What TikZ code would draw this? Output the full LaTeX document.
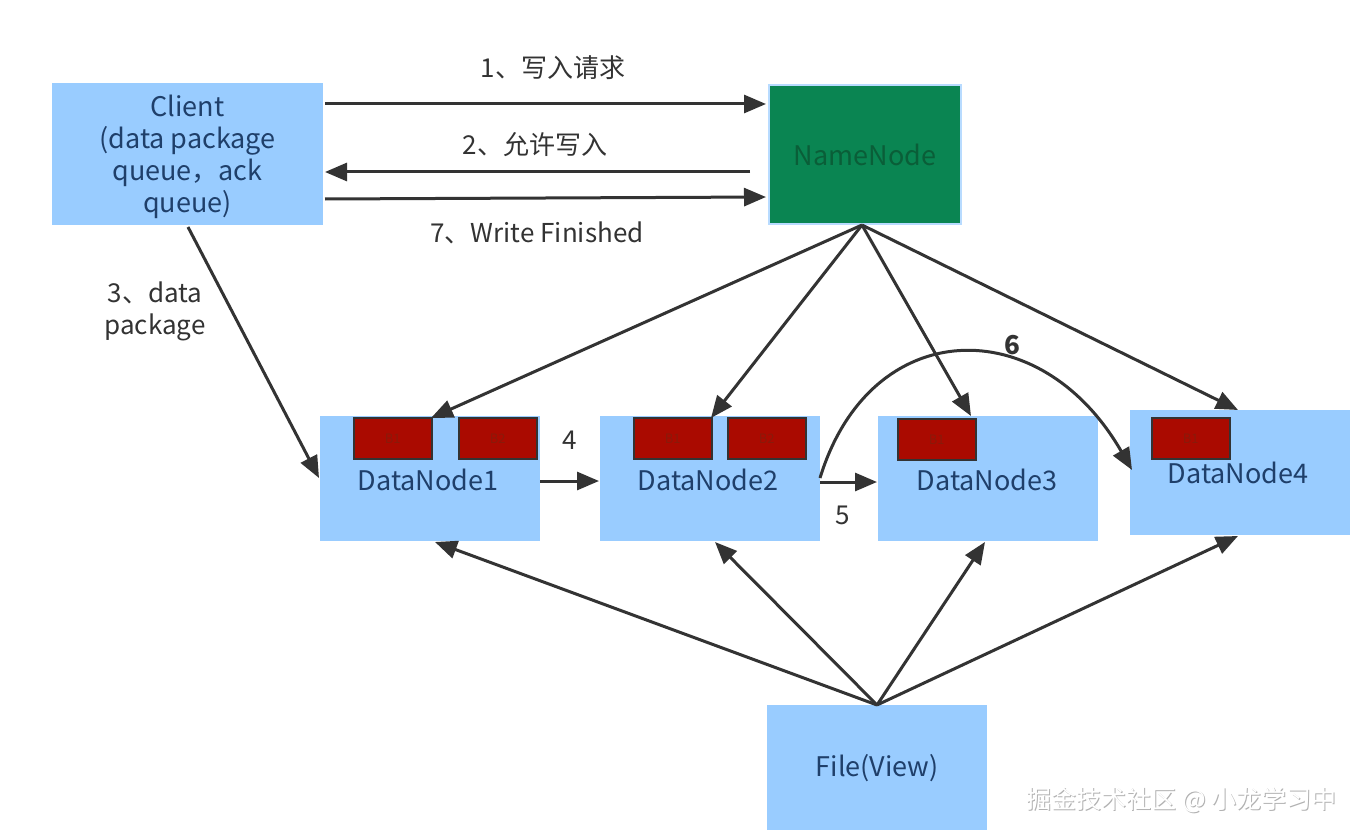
\documentclass[tikz,border=0pt]{standalone}
\usepackage{fontspec}
\setmainfont{Noto Sans CJK SC}
\usetikzlibrary{arrows.meta}
\definecolor{boxblue}{HTML}{99CCFF}
\definecolor{txtblue}{HTML}{1F3F6A}
\definecolor{nngreen}{HTML}{0A8552}
\definecolor{nntxt}{HTML}{0A5E38}
\definecolor{blkred}{HTML}{AA0A00}
\definecolor{blktxt}{HTML}{8A1A0A}
\definecolor{linegray}{HTML}{333333}
\definecolor{lbl}{HTML}{333333}
\tikzset{
  bluebox/.style={fill=boxblue, draw=none, inner sep=0pt, anchor=north west, text=txtblue, font=\fontsize{27}{32}\selectfont, align=center},
  dntext/.style={text=txtblue, font=\fontsize{27}{32}\selectfont},
  blk/.style={fill=blkred, draw=linegray, line width=1.5pt, inner sep=0pt, minimum width=78pt, minimum height=41pt, anchor=north west, text=blktxt, font=\fontsize{13}{15}\selectfont},
  conn/.style={draw=linegray, line width=3pt, -{Triangle[length=22pt,width=18pt]}},
  lab/.style={text=lbl, font=\fontsize{26}{32}\selectfont, align=center},
}
\begin{document}
\begin{tikzpicture}[x=1pt,y=-1pt]
\useasboundingbox (0,0) rectangle (1363,840);
\fill[white] (0,0) rectangle (1363,840);
% boxes
\node[bluebox, minimum width=271pt, minimum height=142pt] (client) at (52,83) {};
\node[text=txtblue, font=\fontsize{27}{32}\selectfont, align=center] (clientt) at (187.5,157) {Client\\(data package\\queue，ack\\queue)};
\node[fill=nngreen, draw=boxblue!70, line width=2pt, inner sep=0pt, minimum width=192pt, minimum height=139pt, anchor=north west, text=nntxt, font=\fontsize{27}{32}\selectfont] (nn) at (768,84) {NameNode};
\node[bluebox, minimum width=220pt, minimum height=125pt] (dn1) at (320,416) {};
\node[bluebox, minimum width=220pt, minimum height=125pt] (dn2) at (600,416) {};
\node[bluebox, minimum width=220pt, minimum height=125pt] (dn3) at (878,416) {};
\node[bluebox, minimum width=220pt, minimum height=125pt] (dn4) at (1130,410) {};
\node[bluebox, minimum width=220pt, minimum height=125pt] (file) at (767,705) {File(View)};
\node[dntext] (dn1t) at (428,480) {DataNode1};
\node[dntext] (dn2t) at (708,480) {DataNode2};
\node[dntext] (dn3t) at (987,480) {DataNode3};
\node[dntext] (dn4t) at (1238,473) {DataNode4};
% blocks
\node[blk] (b11) at (353,417) {B1};
\node[blk] (b12) at (458,417) {B2};
\node[blk] (b21) at (633,417) {B1};
\node[blk] (b22) at (727,417) {B2};
\node[blk] (b31) at (897,418) {B1};
\node[blk] (b41) at (1151,417) {B1};
% coordinates
\coordinate (c1s) at (325,104); \coordinate (c1e) at (766,104);
\coordinate (c2s) at (750,172); \coordinate (c2e) at (325,172);
\coordinate (c7s) at (325,199); \coordinate (c7e) at (766,197);
\coordinate (c3s) at (188,227); \coordinate (c3e) at (319,478);
\coordinate (nnb) at (862,225);
\coordinate (nn1) at (431,418); \coordinate (nn2) at (711,418);
\coordinate (nn3) at (971,416); \coordinate (nn4) at (1238,410);
\coordinate (d1r) at (540,481); \coordinate (d2l) at (599,481);
\coordinate (d2r) at (820,482); \coordinate (d3l) at (877,482);
\coordinate (c6s) at (820,478); \coordinate (c6e) at (1132,470);
\coordinate (ft) at (877,705);
\coordinate (f1) at (435,542); \coordinate (f2) at (715,542);
\coordinate (f3) at (985,542); \coordinate (f4) at (1238,536);
% connectors
\draw[conn] (c1s) -- (c1e);
\draw[conn] (c2s) -- (c2e);
\draw[conn] (c7s) -- (c7e);
\draw[conn] (c3s) -- (c3e);
\foreach \t in {nn1,nn2,nn3,nn4} \draw[conn] (nnb) -- (\t);
\draw[conn] (d1r) -- (d2l);
\draw[conn] (d2r) -- (d3l);
\draw[conn] (c6s) .. controls (870,315) and (1040,310) .. (c6e);
\foreach \t in {f1,f2,f3,f4} \draw[conn] (ft) -- (\t);
% labels
\node[lab] (l1) at (553,68) {1、写入请求};
\node[lab] (l2) at (535,145) {2、允许写入};
\node[lab] (l7) at (537,233) {7、Write Finished};
\node[lab] (l3) at (155,311) {3、data\\package};
\node[lab] (l4) at (570,440) {4};
\node[lab] (l5) at (843,515) {5};
\node[lab, font=\bfseries\fontsize{26}{32}\selectfont] (l6) at (1012,345) {6};
% watermark
\node[text=gray!60, font=\fontsize{25}{28}\selectfont, anchor=east] (wm2) at (1341,801.5) {掘金技术社区 @ 小龙学习中};
\node[text=white, font=\fontsize{25}{28}\selectfont, anchor=east] (wm) at (1340,800.5) {掘金技术社区 @ 小龙学习中};
\end{tikzpicture}
\end{document}
